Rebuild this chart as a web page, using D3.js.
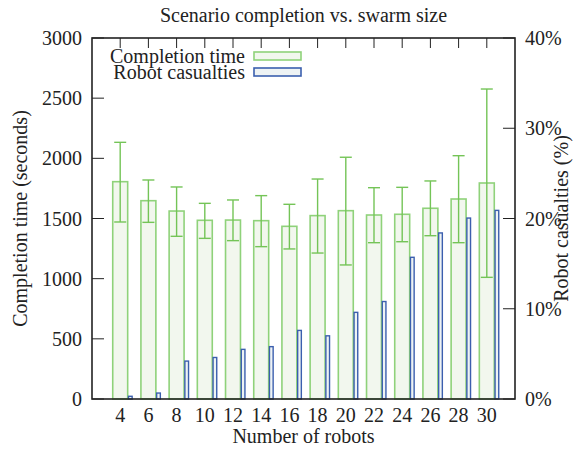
<!DOCTYPE html>
<html><head><meta charset="utf-8">
<script src="https://cdn.jsdelivr.net/npm/d3@7/dist/d3.min.js"></script>
<style>body{margin:0;background:#fff;}</style>
</head><body><svg id="c" width="573" height="449" font-family="'Liberation Serif', 'Times New Roman', serif"></svg>
<script>
const robots = [4,6,8,10,12,14,16,18,20,22,24,26,28,30];
const timeMean = [1806,1648,1562,1485,1487,1482,1435,1524,1565,1529,1535,1585,1662,1795];
const timeLow  = [1471,1468,1352,1335,1316,1266,1247,1213,1114,1299,1307,1357,1299,1011];
const timeHigh = [2133,1820,1762,1626,1654,1690,1618,1828,2009,1756,1759,1812,2022,2576];
const casualties = [0.3,0.66,4.2,4.6,5.5,5.8,7.6,7.0,9.6,10.8,15.7,18.4,20.05,20.9];
const leftTicks = [0,500,1000,1500,2000,2500,3000];
const rightTicks = [0,10,20,30,40];

const L=92,R=515,T=38,B=399;
const svg=d3.select("#c");
const x=d3.scaleLinear().domain([-1,robots.length]).range([L,R]);
const yL=d3.scaleLinear().domain([0,3000]).range([B,T]);
const yR=d3.scaleLinear().domain([0,40]).range([B,T]);
const step=x(1)-x(0);
const gw=0.53*step, bw=0.13*step;
const ink="#222";

robots.forEach((r,i)=>{
  svg.append("line").attr("x1",x(i)).attr("x2",x(i)).attr("y1",B).attr("y2",B-10).attr("stroke",ink).attr("stroke-width",1);
});

const green="#8fd27a", greenDark="#74c457", blue="#3b5fae";
svg.selectAll("rect.g").data(robots).enter().append("rect")
  .attr("x",(d,i)=>x(i)-gw/2).attr("width",gw)
  .attr("y",(d,i)=>yL(timeMean[i])).attr("height",(d,i)=>B-yL(timeMean[i]))
  .attr("fill","#f2f7ee").attr("stroke",green).attr("stroke-width",1.6);
robots.forEach((r,i)=>{
  const cx=x(i), cw=6;
  const g=svg.append("g").attr("stroke",greenDark).attr("stroke-width",1.4);
  g.append("line").attr("x1",cx).attr("x2",cx).attr("y1",yL(timeLow[i])).attr("y2",yL(timeHigh[i]));
  g.append("line").attr("x1",cx-cw).attr("x2",cx+cw).attr("y1",yL(timeLow[i])).attr("y2",yL(timeLow[i]));
  g.append("line").attr("x1",cx-cw).attr("x2",cx+cw).attr("y1",yL(timeHigh[i])).attr("y2",yL(timeHigh[i]));
});
svg.selectAll("rect.b").data(robots).enter().append("rect")
  .attr("x",(d,i)=>x(i)+gw/2+0.8).attr("width",bw)
  .attr("y",(d,i)=>yR(casualties[i])).attr("height",(d,i)=>B-yR(casualties[i]))
  .attr("fill","#eef3f4").attr("stroke",blue).attr("stroke-width",1.4);

svg.append("rect").attr("x",L).attr("y",T).attr("width",R-L).attr("height",B-T)
  .attr("fill","none").attr("stroke",ink).attr("stroke-width",1.6);
robots.forEach((r,i)=>{
  svg.append("line").attr("x1",x(i)).attr("x2",x(i)).attr("y1",T).attr("y2",T+10).attr("stroke",ink).attr("stroke-width",1);
});
const fs=20;
leftTicks.forEach(v=>{
  svg.append("line").attr("x1",L).attr("x2",L+12).attr("y1",yL(v)).attr("y2",yL(v)).attr("stroke",ink);
  svg.append("text").attr("x",L-10).attr("y",yL(v)+7).attr("text-anchor","end").attr("font-size",fs).attr("fill",ink).text(v);
});
rightTicks.forEach(v=>{
  svg.append("line").attr("x1",R).attr("x2",R-12).attr("y1",yR(v)).attr("y2",yR(v)).attr("stroke",ink);
  svg.append("text").attr("x",R+10).attr("y",yR(v)+7).attr("text-anchor","start").attr("font-size",fs).attr("fill",ink).text(v+"%");
});
robots.forEach((r,i)=>{
  svg.append("text").attr("x",x(i)).attr("y",422).attr("text-anchor","middle").attr("font-size",fs).attr("fill",ink).text(r);
});
svg.append("text").attr("x",(L+R)/2).attr("y",22).attr("text-anchor","middle").attr("font-size",fs).attr("fill",ink).text("Scenario completion vs. swarm size");
svg.append("text").attr("x",(L+R)/2).attr("y",443).attr("text-anchor","middle").attr("font-size",fs).attr("fill",ink).text("Number of robots");
svg.append("text").attr("transform",`translate(27,${(T+B)/2}) rotate(-90)`).attr("text-anchor","middle").attr("font-size",fs).attr("fill",ink).text("Completion time (seconds)");
svg.append("text").attr("transform",`translate(568,${(T+B)/2}) rotate(-90)`).attr("text-anchor","middle").attr("font-size",fs).attr("fill",ink).text("Robot casualties (%)");
const leg=[["Completion time",green,"#f2f7ee"],["Robot casualties",blue,"#eef3f4"]];
leg.forEach((l,i)=>{
  const yy=56+i*16;
  svg.append("text").attr("x",245).attr("y",yy+7).attr("text-anchor","end").attr("font-size",fs).attr("fill",ink).text(l[0]);
  svg.append("rect").attr("x",254).attr("y",yy-4).attr("width",47).attr("height",8).attr("fill",l[2]).attr("stroke",l[1]).attr("stroke-width",1.6);
});
</script></body></html>
